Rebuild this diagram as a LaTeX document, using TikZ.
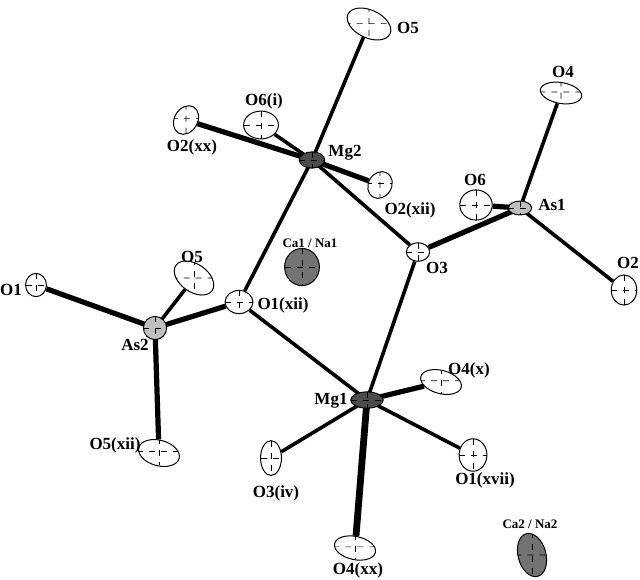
\documentclass[tikz,border=0pt]{standalone}
\usepackage{fontspec}
\setmainfont{Liberation Serif}
\usetikzlibrary{shapes.geometric,backgrounds}
\begin{document}
\begin{tikzpicture}[x=0.5pt,y=-0.5pt,
  atom/.style={ellipse, draw, line width=0.5pt, fill=white, inner sep=0pt,
    path picture={\draw[dashed,line width=0.3pt] (path picture bounding box.north) -- (path picture bounding box.south);
      \draw[dashed,line width=0.3pt] (path picture bounding box.west) -- (path picture bounding box.east);}},
  sz/.style 2 args={minimum width=#1*0.58pt, minimum height=#2*0.58pt},
  mg/.style={atom, fill=black!70},
  as/.style={atom, fill=black!25},
  ca/.style={atom, fill=black!55},
  bd/.style={line width=1.8pt},
  bt/.style={line width=2.6pt},
  lb/.style={font=\bfseries\fontsize{8.5}{9}\selectfont, inner sep=0pt},
  ls/.style={font=\bfseries\fontsize{6.5}{7}\selectfont, inner sep=0pt}]
\useasboundingbox (0,0) rectangle (640,579);
% atoms
\node[atom, sz={40}{24}, rotate=-25] (O5t) at (369,24) {};
\node[mg, sz={22}{14}] (Mg2) at (312,160) {};
\node[atom, sz={30}{24}] (O6i) at (261,125) {};
\node[atom, sz={20}{26}, rotate=-30] (O2xx) at (186,120) {};
\node[atom, sz={20}{24}, rotate=-30] (O2xii) at (380,185) {};
\node[atom, sz={20}{16}] (O3) at (418,252) {};
\node[atom, sz={28}{26}] (O6) at (476,205) {};
\node[as, sz={20}{12}] (As1) at (520,208) {};
\node[atom, sz={36}{18}, rotate=-10] (O4) at (561,93) {};
\node[atom, sz={22}{26}] (O2) at (624,290) {};
\node[ca, sz={30}{32}] (Ca1) at (302,267) {};
\node[atom, sz={38}{24}, rotate=-35] (O5l) at (194,278) {};
\node[atom, sz={18}{20}] (O1) at (36,285) {};
\node[atom, sz={24}{20}] (O1xii) at (239,302) {};
\node[as, sz={20}{20}] (As2) at (155,328) {};
\node[atom, sz={36}{22}, rotate=-15] (O5xii) at (159,453) {};
\node[mg, sz={28}{14}] (Mg1) at (367,400) {};
\node[atom, sz={36}{20}, rotate=-15] (O4x) at (441,382) {};
\node[atom, sz={24}{28}] (O1xvii) at (473,455) {};
\node[atom, sz={18}{30}] (O3iv) at (271,458) {};
\node[atom, sz={36}{20}, rotate=-12] (O4xx) at (355,548) {};
\node[ca, sz={24}{38}, rotate=15] (Ca2) at (532,555) {};
% bonds
\begin{scope}[on background layer]
\draw[bd] (Mg2.center) -- (O5t);
\draw[bd] (Mg2.center) -- (O6i);
\draw[bt] (Mg2.center) -- (O2xx);
\draw[bt] (Mg2.center) -- (O2xii);
\draw[bd] (Mg2.center) -- (O3);
\draw[bd] (Mg2.center) -- (O1xii);
\draw[bt] (As1.center) -- (O3);
\draw[bt] (As1.center) -- (O6);
\draw[bd] (As1.center) -- (O4);
\draw[bd] (As1.center) -- (O2);
\draw[bt] (As2.center) -- (O1);
\draw[bd] (As2.center) -- (O5l);
\draw[bt] (As2.center) -- (O1xii);
\draw[bt] (As2.center) -- (O5xii);
\draw[bd] (Mg1.center) -- (O1xii);
\draw[bd] (Mg1.center) -- (O3);
\draw[bt] (Mg1.center) -- (O4x);
\draw[bd] (Mg1.center) -- (O1xvii);
\draw[bd] (Mg1.center) -- (O3iv);
\draw[line width=3.4pt] (Mg1.center) -- (O4xx);
\end{scope}
% labels
\node[lb] (lO5t) at (408,28) {O5};
\node[lb] (lMg2) at (345,153) {Mg2};
\node[lb] (lO6i) at (264,101) {O6(i)};
\node[lb] (lO2xx) at (192,147) {O2(xx)};
\node[lb] (lO2xii) at (410,210) {O2(xii)};
\node[lb] (lO6) at (475,180) {O6};
\node[lb] (lAs1) at (552,205) {As1};
\node[lb] (lO4) at (563,72) {O4};
\node[lb] (lO2) at (628,263) {O2};
\node[ls] (lCa1) at (310,243) {Ca1 / Na1};
\node[lb] (lO3) at (437,268) {O3};
\node[lb] (lO5l) at (192,257) {O5};
\node[lb] (lO1) at (11,290) {O1};
\node[lb] (lO1xii) at (283,305) {O1(xii)};
\node[lb] (lAs2) at (135,345) {As2};
\node[lb] (lO5xii) at (115,445) {O5(xii)};
\node[lb] (lMg1) at (331,401) {Mg1};
\node[lb] (lO4x) at (469,370) {O4(x)};
\node[lb] (lO1xvii) at (485,480) {O1(xvii)};
\node[lb] (lO3iv) at (276,493) {O3(iv)};
\node[lb] (lO4xx) at (358,570) {O4(xx)};
\node[ls] (lCa2) at (530,524) {Ca2 / Na2};
\end{tikzpicture}
\end{document}
